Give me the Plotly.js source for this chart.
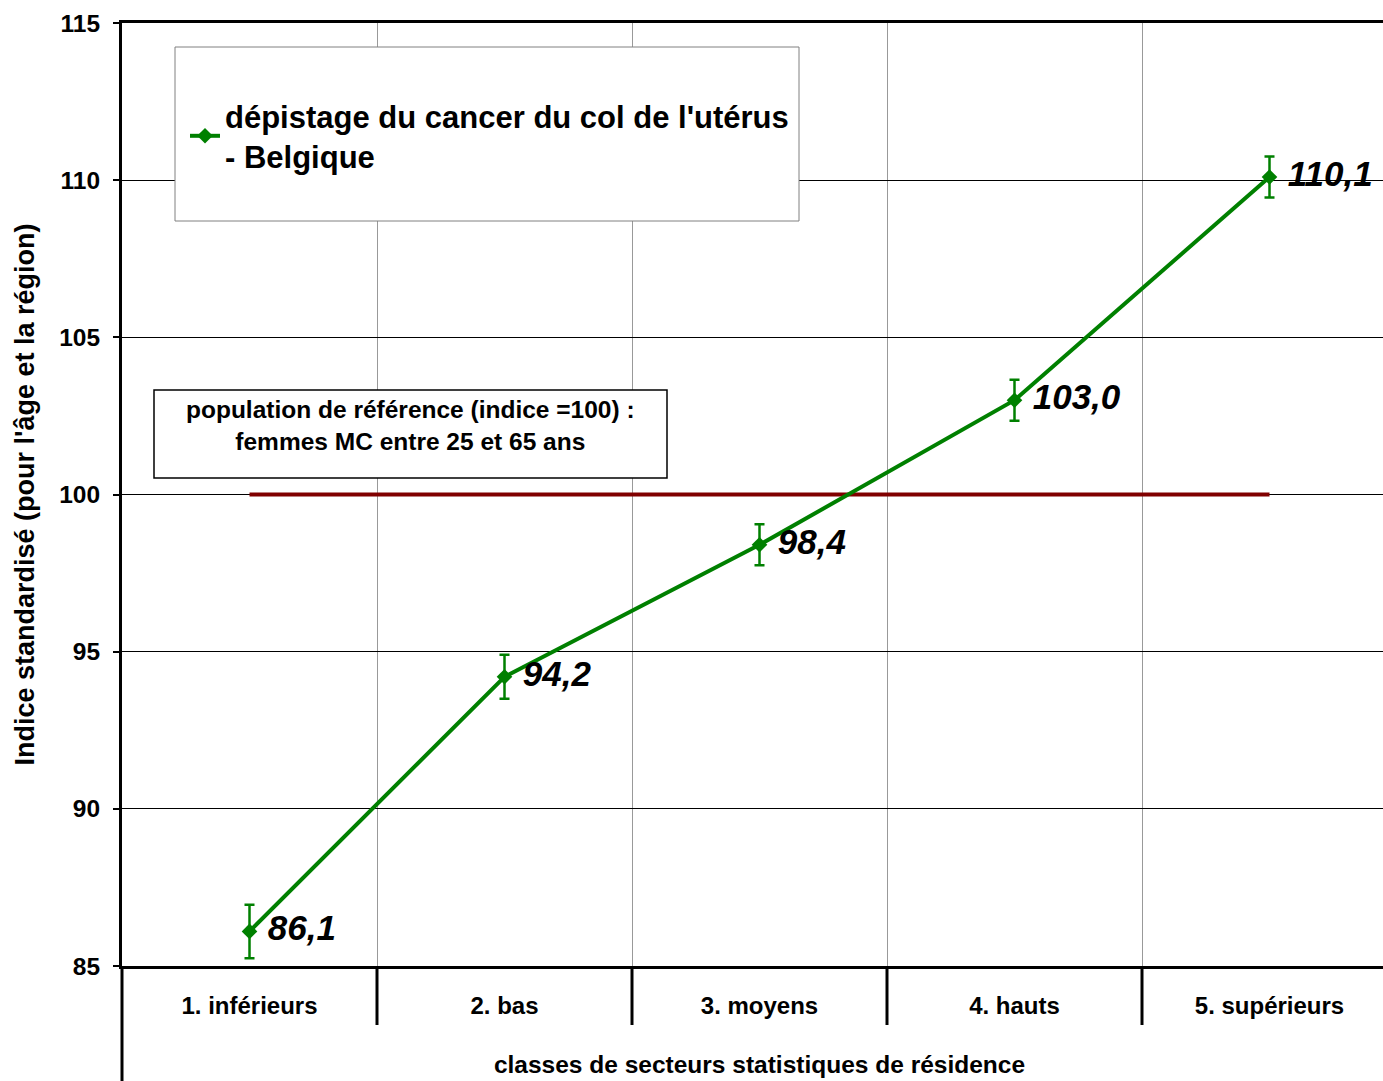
<!DOCTYPE html>
<html>
<head>
<meta charset="utf-8">
<script src="https://cdn.plot.ly/plotly-3.0.1.min.js"></script>
<style>
html,body{margin:0;padding:0;overflow:hidden;background:#fff;}
#chart{width:1400px;height:1081px;}
</style>
</head>
<body>
<div id="chart"></div>
<script>
const categories = ['1. inférieurs', '2. bas', '3. moyens', '4. hauts', '5. supérieurs'];
const values = [86.1, 94.2, 98.4, 103.0, 110.1];
const errors = [0.85, 0.7, 0.65, 0.65, 0.65];
const referenceLevel = [100, 100, 100, 100, 100];
const seriesName = "dépistage du cancer du col de l'utérus<br>- Belgique";
const referenceNote = "population de référence (indice =100) :<br>femmes MC entre 25 et 65 ans";
const xTitle = 'classes de secteurs statistiques de résidence';
const yTitle = "Indice standardisé (pour l'âge et la région)";

const FONT = '"Liberation Sans", Arial, sans-serif';
const W = 1400, H = 1081;
const M = {l: 122, r: 3, t: 23, b: 115};
const plotW = W - M.l - M.r, plotH = H - M.t - M.b;
const px = v => (v - M.l) / plotW;
const py = v => (H - M.b - v) / plotH;

const traces = [
  {
    x: categories, y: referenceLevel, type: 'scatter', mode: 'lines',
    line: {color: '#800000', width: 4}, showlegend: false, hoverinfo: 'skip'
  },
  {
    x: categories, y: values, type: 'scatter', mode: 'lines+markers+text',
    name: seriesName,
    line: {color: '#008000', width: 4},
    marker: {symbol: 'diamond', size: 12, color: '#008000'},
    error_y: {type: 'data', array: errors, visible: true, color: '#008000', thickness: 2.5, width: 5},
    texttemplate: ' %{y:.1f}', textposition: 'middle right',
    textfont: {family: FONT, size: 35, color: '#000', weight: 'bold', style: 'italic'},
    cliponaxis: false
  }
];

const shapes = [];
for (let i = 1; i < categories.length; i++) {
  shapes.push({type: 'line', xref: 'paper', yref: 'paper', x0: i / categories.length, x1: i / categories.length,
    y0: 0, y1: -59 / plotH, line: {color: '#000', width: 3}});
}
shapes.push({type: 'line', xref: 'paper', yref: 'paper', x0: 0, x1: 0, y0: 0, y1: -M.b / plotH - 0.01,
  line: {color: '#000', width: 3}});
// legend frame
shapes.push({type: 'rect', xref: 'paper', yref: 'paper', x0: px(175), x1: px(799), y0: py(221), y1: py(47),
  line: {color: '#808080', width: 1}, fillcolor: '#fff', layer: 'above'});
// note frame
shapes.push({type: 'rect', xref: 'paper', yref: 'paper', x0: px(154), x1: px(667), y0: py(478), y1: py(390),
  line: {color: '#000', width: 1.5}, fillcolor: '#fff', layer: 'above'});

const layout = {
  width: W, height: H,
  margin: M,
  paper_bgcolor: '#fff', plot_bgcolor: '#fff',
  separators: ', ',
  font: {family: FONT, color: '#000'},
  showlegend: true,
  legend: {
    x: px(185), y: py(136), xanchor: 'left', yanchor: 'middle',
    bgcolor: 'rgba(0,0,0,0)', borderwidth: 0,
    font: {family: FONT, size: 31, weight: 'bold', color: '#000'}
  },
  xaxis: {
    type: 'category', range: [-0.5, 4.5],
    tickson: 'boundaries', ticks: '',
    showgrid: true, gridcolor: '#999', gridwidth: 1,
    showline: true, linecolor: '#000', linewidth: 3, mirror: true,
    tickfont: {family: FONT, size: 24, weight: 'bold'},
    ticklabelstandoff: 16,
    title: {text: xTitle, font: {family: FONT, size: 24.5, weight: 'bold'}, standoff: 39},
    zeroline: false, automargin: false, fixedrange: true
  },
  yaxis: {
    range: [85, 115], dtick: 5, tick0: 85,
    ticks: 'outside', ticklen: 6, tickwidth: 2, tickcolor: '#000',
    showgrid: true, gridcolor: '#000', gridwidth: 1,
    showline: true, linecolor: '#000', linewidth: 3,
    tickfont: {family: FONT, size: 24.5, weight: 'bold'},
    ticklabelstandoff: 8,
    title: {text: yTitle, font: {family: FONT, size: 27, weight: 'bold'}, standoff: 17},
    zeroline: false, automargin: false, fixedrange: true
  },
  shapes: shapes,
  annotations: [{
    xref: 'paper', yref: 'paper', x: px(410.5), y: py(426), xanchor: 'center', yanchor: 'middle',
    text: referenceNote, showarrow: false, align: 'center',
    font: {family: FONT, size: 24.5, weight: 'bold', color: '#000'}
  }]
};

Plotly.newPlot('chart', traces, layout, {displayModeBar: false, staticPlot: true});
</script>
</body>
</html>
